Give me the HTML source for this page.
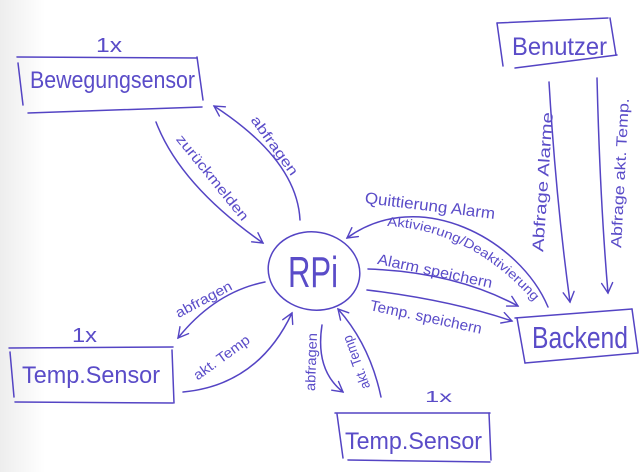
<!DOCTYPE html>
<html>
<head>
<meta charset="utf-8">
<style>
  html,body{margin:0;padding:0;background:#fff;}
  svg{display:block;}
  text{font-family:"Liberation Sans","DejaVu Sans",sans-serif;fill:#5a4cc8;}
</style>
</head>
<body>
<svg width="642" height="472" viewBox="0 0 642 472" xmlns="http://www.w3.org/2000/svg">
  <defs>
    <linearGradient id="bg" x1="0" y1="0" x2="1" y2="0">
      <stop offset="0" stop-color="#ededed"/>
      <stop offset="1" stop-color="#ffffff"/>
    </linearGradient>
    <marker id="ah" viewBox="0 0 14 14" refX="12" refY="7" markerWidth="14" markerHeight="14" markerUnits="userSpaceOnUse" orient="auto">
      <path d="M2,1.5 L12,7 L2,12.5" fill="none" stroke="#5444c4" stroke-width="1.4" stroke-linecap="round"/>
    </marker>
  </defs>

  <rect x="0" y="0" width="642" height="472" fill="#fff"/>
  <rect x="0" y="0" width="45" height="472" fill="url(#bg)"/>

  <g fill="none" stroke="#5444c4" stroke-width="1.5" stroke-linecap="round">
    <!-- Bewegungsensor box -->
    <path d="M17,57 L197,58"/>
    <path d="M197,57 L203,100"/>
    <path d="M28,113 L202,107"/>
    <path d="M18,63 L23,105"/>

    <!-- Left Temp.Sensor box -->
    <path d="M9,348 L173,347"/>
    <path d="M10,352 L14,397"/>
    <path d="M15,402 L173,403"/>
    <path d="M172,350 L174,403"/>

    <!-- Benutzer box -->
    <path d="M497,23 L608,18"/>
    <path d="M610,18 L616,55"/>
    <path d="M515,68 L617,55"/>
    <path d="M497,23 L503,66"/>

    <!-- Backend box -->
    <path d="M515,318 L632,309"/>
    <path d="M632,309 L638,352"/>
    <path d="M525,363 L638,353"/>
    <path d="M517,318 L525,363"/>

    <!-- Bottom Temp.Sensor box -->
    <path d="M335,413 L490,413"/>
    <path d="M337,414 L343,458"/>
    <path d="M348,460 L490,462"/>
    <path d="M489,413 L491,460"/>

    <!-- RPi circle -->
    <ellipse cx="314" cy="271" rx="46" ry="39" transform="rotate(10 314 271)"/>

    <!-- Connectors -->
    <path d="M156,122 Q180,185 263,243" marker-end="url(#ah)"/>
    <path d="M300,220 Q297,160 214,106" marker-end="url(#ah)"/>
    <path d="M265,282 Q215,292 178,338" marker-end="url(#ah)"/>
    <path d="M183,392 Q258,385 292,313" marker-end="url(#ah)"/>
    <path d="M322,325 Q315,370 343,392" marker-end="url(#ah)"/>
    <path d="M381,397 Q370,345 338,309" marker-end="url(#ah)"/>
    <path d="M548,307 C520,240 420,185 347,238" marker-end="url(#ah)"/>
    <path d="M368,269 Q455,272 518,306" marker-end="url(#ah)"/>
    <path d="M367,290 Q450,300 512,321" marker-end="url(#ah)"/>
    <path d="M549,82 Q556,200 570,302" marker-end="url(#ah)"/>
    <path d="M597,78 Q600,200 608,293" marker-end="url(#ah)"/>

    <path id="akt" d="M387,226 Q478,230 545,315" stroke="none"/>
  </g>

  <!-- Box labels -->
  <text x="30" y="88" font-size="24" textLength="165" lengthAdjust="spacingAndGlyphs">Bewegungsensor</text>
  <text x="96" y="52" font-size="20" textLength="26" lengthAdjust="spacingAndGlyphs">1x</text>
  <text x="22" y="383" font-size="24" textLength="138" lengthAdjust="spacingAndGlyphs">Temp.Sensor</text>
  <text x="72" y="342" font-size="20" textLength="25" lengthAdjust="spacingAndGlyphs">1x</text>
  <text x="512" y="55" font-size="25" textLength="95" lengthAdjust="spacingAndGlyphs">Benutzer</text>
  <text x="532" y="348" font-size="31" textLength="96" lengthAdjust="spacingAndGlyphs">Backend</text>
  <text x="345" y="449" font-size="24" textLength="137" lengthAdjust="spacingAndGlyphs">Temp.Sensor</text>
  <text x="425" y="402" font-size="16" textLength="27" lengthAdjust="spacingAndGlyphs">1x</text>
  <text x="288" y="287" font-size="44" textLength="50" lengthAdjust="spacingAndGlyphs">RPi</text>

  <!-- Connector labels -->
  <g font-size="14" text-anchor="middle">
    <text transform="translate(212,178) rotate(51)" y="4" textLength="106" lengthAdjust="spacingAndGlyphs">zurückmelden</text>
    <text transform="translate(274,146) rotate(54)" y="4" textLength="70" lengthAdjust="spacingAndGlyphs">abfragen</text>
    <text transform="translate(204,300) rotate(-28)" y="4" textLength="62" lengthAdjust="spacingAndGlyphs">abfragen</text>
    <text transform="translate(222,358) rotate(-36)" y="4" textLength="66" lengthAdjust="spacingAndGlyphs">akt. Temp</text>
    <text transform="translate(312,362) rotate(-88)" y="4" textLength="58" lengthAdjust="spacingAndGlyphs">abfragen</text>
    <text transform="translate(357,362) rotate(-110)" y="4" textLength="56" lengthAdjust="spacingAndGlyphs">akt. Temp</text>
    <text transform="translate(430,206) rotate(7)" y="5" font-size="16" textLength="131" lengthAdjust="spacingAndGlyphs">Quittierung Alarm</text>
    <text transform="translate(435,271) rotate(12)" y="5" font-size="15" textLength="117" lengthAdjust="spacingAndGlyphs">Alarm speichern</text>
    <text transform="translate(426,317) rotate(12)" y="5" font-size="15" textLength="114" lengthAdjust="spacingAndGlyphs">Temp. speichern</text>
    <text transform="translate(543,182) rotate(-86)" y="5" font-size="16" textLength="140" lengthAdjust="spacingAndGlyphs">Abfrage Alarme</text>
    <text transform="translate(620,173) rotate(-87)" y="5" font-size="15" textLength="150" lengthAdjust="spacingAndGlyphs">Abfrage akt. Temp.</text>
  </g>
  <text font-size="13"><textPath href="#akt" textLength="170" lengthAdjust="spacingAndGlyphs">Aktivierung/Deaktivierung</textPath></text>
</svg>
</body>
</html>
